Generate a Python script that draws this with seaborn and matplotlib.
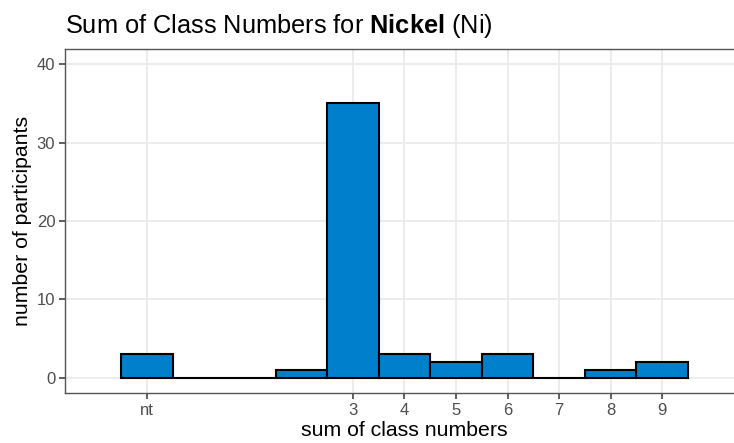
import matplotlib
matplotlib.use("Agg")
import matplotlib.pyplot as plt
import seaborn as sns
import pandas as pd

# data
positions = [-1, 0, 1, 2, 3, 4, 5, 6, 7, 8, 9]
counts = [3, 0, 0, 1, 35, 3, 2, 3, 0, 1, 2]
tick_positions = [-1, 3, 4, 5, 6, 7, 8, 9]
tick_labels = ["nt", "3", "4", "5", "6", "7", "8", "9"]
y_ticks = [0, 10, 20, 30, 40]

df = pd.DataFrame({"pos": positions, "n": counts})

sns.set_theme(style="white")
plt.rcParams["font.family"] = ["Liberation Sans", "DejaVu Sans"]
plt.rcParams["mathtext.fontset"] = "custom"
plt.rcParams["mathtext.rm"] = "Liberation Sans"
plt.rcParams["mathtext.bf"] = "Liberation Sans:bold"

W, H = 734, 443
fig = plt.figure(figsize=(W / 100, H / 100), dpi=100)
left, right, top, bottom = 65, 744, 49, 393
ax = fig.add_axes([left / W, 1 - bottom / H, (right - left) / W, (bottom - top) / H])

ax.set_axisbelow(True)
for yv in y_ticks:
    ax.axhline(yv, color="#EBEBEB", lw=1.3, zorder=0)
for xv in tick_positions:
    ax.axvline(xv, color="#EBEBEB", lw=1.3, zorder=0)

sns.barplot(data=df, x="pos", y="n", native_scale=True, width=1.0,
            color="#0080CC", saturation=1, edgecolor="black", linewidth=1.5,
            errorbar=None, ax=ax, zorder=2)

ax.set_xlim(-2.59, 10.59)
ax.set_ylim(-1.95, 41.95)
ax.set_xticks(tick_positions)
ax.set_xticklabels(tick_labels)
ax.set_yticks(y_ticks)

ax.tick_params(axis="both", which="major", length=4, width=1.1, color="#333333",
               labelcolor="#4D4D4D", labelsize=12, pad=3, direction="out",
               bottom=True, left=True)
for name, s in ax.spines.items():
    s.set_color("#555555")
    s.set_linewidth(1.0)
ax.spines["right"].set_visible(False)

ax.set_xlabel("sum of class numbers", fontsize=15.3, color="black", labelpad=2)
ax.set_ylabel("number of participants", fontsize=15.3, color="black", labelpad=3)

fig.text(left / W, 1 - 33 / H, r"Sum of Class Numbers for $\bf{Nickel}$ (Ni)",
         fontsize=18.3, color="black", ha="left", va="baseline")

fig.savefig("out.png", dpi=100, facecolor="white")
